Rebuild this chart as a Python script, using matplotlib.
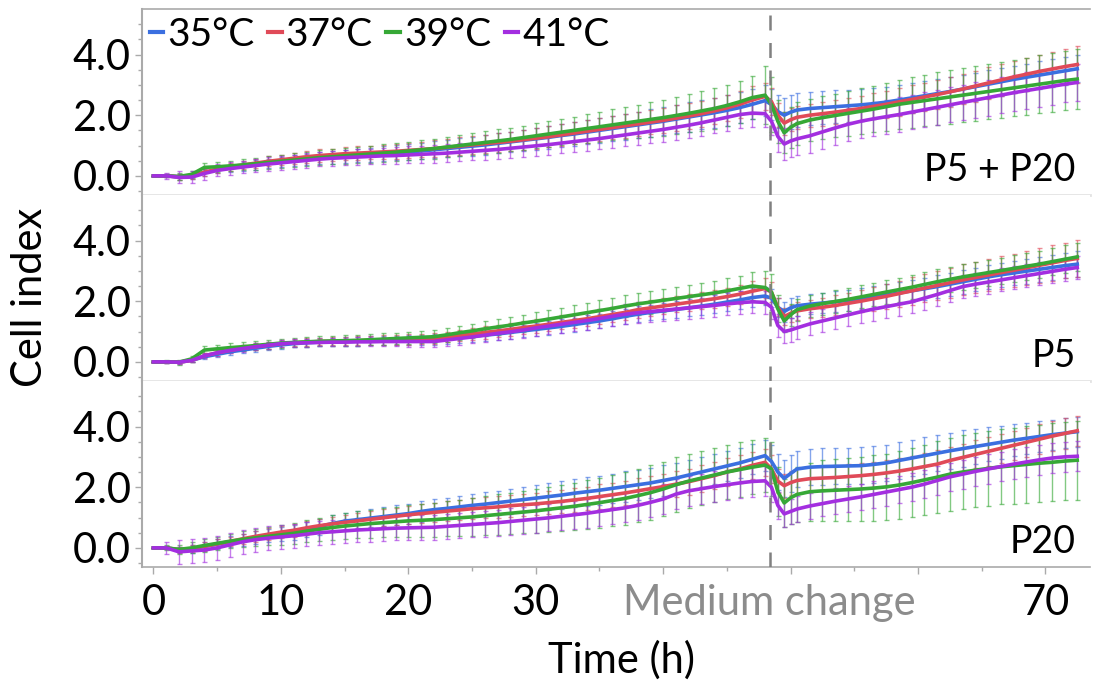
import numpy as np
import matplotlib
matplotlib.use("Agg")
import matplotlib.pyplot as plt
from matplotlib.lines import Line2D
from matplotlib import transforms

plt.rcParams['font.family'] = ['Lato', 'DejaVu Sans']

# Sampling times (h): hourly, half-hourly around the medium change
time_h = np.r_[0:48:1, 48:51:0.5, 51.5:73:1]

temps = ["35°C", "37°C", "39°C", "41°C"]
colors = ["#3b6fe0", "#e04a58", "#36a836", "#a32ee0"]
panel_names = ["P5 + P20", "P5", "P20"]
medium_change_h = 48.35

# ---- P5 + P20 ----
p5p20_35 = [0, 0, -0.03, 0.0, 0.12, 0.2, 0.26, 0.31, 0.36, 0.41, 0.46, 0.5,
            0.54, 0.58, 0.61, 0.64, 0.67, 0.7, 0.73, 0.76, 0.79, 0.82, 0.86, 0.9,
            0.94, 0.98, 1.02, 1.07, 1.12, 1.17, 1.22, 1.27, 1.33, 1.38, 1.44, 1.5,
            1.56, 1.62, 1.68, 1.74, 1.8, 1.87, 1.94, 2.01, 2.08, 2.16, 2.25, 2.36,
            2.48, 2.35, 2.12, 2.0, 2.1, 2.17,
            2.22, 2.25, 2.28, 2.31, 2.34, 2.38, 2.43, 2.5, 2.57, 2.64, 2.71,
            2.78, 2.86, 2.94, 3.02, 3.1, 3.18, 3.25, 3.32, 3.39, 3.46, 3.53]
p5p20_37 = [0, 0, -0.03, 0.0, 0.12, 0.22, 0.3, 0.36, 0.42, 0.48, 0.53, 0.58,
            0.63, 0.67, 0.7, 0.73, 0.75, 0.77, 0.79, 0.81, 0.84, 0.87, 0.9, 0.94,
            0.98, 1.02, 1.06, 1.1, 1.14, 1.19, 1.24, 1.29, 1.35, 1.41, 1.47, 1.53,
            1.59, 1.65, 1.71, 1.77, 1.83, 1.9, 1.97, 2.05, 2.14, 2.24, 2.36, 2.5,
            2.62, 2.45, 2.0, 1.74, 1.85, 1.93,
            2.0, 2.05, 2.1, 2.16, 2.22, 2.29, 2.36, 2.44, 2.52, 2.6, 2.68,
            2.77, 2.86, 2.96, 3.06, 3.16, 3.26, 3.35, 3.44, 3.52, 3.6, 3.67]
p5p20_39 = [0, 0, -0.02, 0.05, 0.28, 0.3, 0.33, 0.36, 0.4, 0.44, 0.48, 0.52,
            0.56, 0.6, 0.63, 0.66, 0.69, 0.72, 0.75, 0.78, 0.82, 0.86, 0.9, 0.95,
            1.0, 1.05, 1.1, 1.15, 1.2, 1.26, 1.32, 1.38, 1.44, 1.5, 1.56, 1.62,
            1.68, 1.74, 1.8, 1.86, 1.92, 1.99, 2.06, 2.14, 2.22, 2.32, 2.44, 2.58,
            2.66, 2.35, 1.8, 1.42, 1.6, 1.72,
            1.84, 1.92, 1.99, 2.06, 2.13, 2.2, 2.28, 2.36, 2.42, 2.48, 2.54,
            2.6, 2.66, 2.72, 2.78, 2.84, 2.9, 2.96, 3.02, 3.08, 3.14, 3.19]
p5p20_41 = [0, 0, -0.05, -0.04, 0.08, 0.18, 0.24, 0.29, 0.34, 0.39, 0.43, 0.47,
            0.51, 0.55, 0.58, 0.6, 0.62, 0.64, 0.66, 0.67, 0.69, 0.71, 0.73, 0.75,
            0.78, 0.81, 0.84, 0.87, 0.91, 0.95, 0.99, 1.03, 1.08, 1.13, 1.18, 1.23,
            1.29, 1.35, 1.41, 1.47, 1.53, 1.6, 1.67, 1.75, 1.84, 1.93, 2.02, 2.07,
            2.05, 1.8, 1.3, 1.05, 1.15, 1.22,
            1.32, 1.45, 1.58, 1.7, 1.8, 1.88, 1.95, 2.02, 2.1, 2.18, 2.26,
            2.34, 2.42, 2.5, 2.58, 2.66, 2.74, 2.81, 2.88, 2.95, 3.02, 3.08]

p5p20_35_sd = [0, 0.05, 0.1, 0.1, 0.12, 0.12, 0.13, 0.14, 0.15, 0.16, 0.17, 0.18,
               0.19, 0.2, 0.21, 0.22, 0.22, 0.23, 0.24, 0.25, 0.26, 0.27, 0.28, 0.29,
               0.3, 0.31, 0.32, 0.33, 0.34, 0.35, 0.36, 0.37, 0.38, 0.39, 0.4, 0.41,
               0.42, 0.43, 0.44, 0.45, 0.46, 0.47, 0.48, 0.48, 0.49, 0.5, 0.5, 0.5,
               0.5, 0.5, 0.55, 0.56, 0.56, 0.56,
               0.55, 0.55, 0.54, 0.53, 0.52, 0.51, 0.5, 0.5, 0.49, 0.48, 0.48,
               0.47, 0.47, 0.46, 0.46, 0.46, 0.45, 0.45, 0.45, 0.45, 0.45, 0.45]
p5p20_37_sd = [0, 0.05, 0.1, 0.1, 0.11, 0.12, 0.13, 0.14, 0.15, 0.16, 0.17, 0.18,
               0.19, 0.2, 0.2, 0.21, 0.22, 0.22, 0.23, 0.24, 0.25, 0.26, 0.27, 0.28,
               0.29, 0.3, 0.3, 0.31, 0.32, 0.33, 0.34, 0.35, 0.35, 0.36, 0.37, 0.38,
               0.38, 0.39, 0.4, 0.4, 0.41, 0.42, 0.42, 0.43, 0.44, 0.44, 0.45, 0.45,
               0.45, 0.45, 0.4, 0.38, 0.38, 0.38,
               0.38, 0.39, 0.4, 0.41, 0.42, 0.43, 0.44, 0.45, 0.46, 0.47, 0.48,
               0.49, 0.5, 0.51, 0.52, 0.53, 0.54, 0.55, 0.56, 0.57, 0.58, 0.6]
p5p20_39_sd = [0, 0.05, 0.1, 0.12, 0.15, 0.16, 0.17, 0.18, 0.19, 0.2, 0.21, 0.22,
               0.23, 0.24, 0.25, 0.26, 0.27, 0.28, 0.29, 0.3, 0.31, 0.32, 0.33, 0.34,
               0.35, 0.36, 0.37, 0.38, 0.39, 0.4, 0.41, 0.42, 0.43, 0.45, 0.47, 0.49,
               0.51, 0.53, 0.55, 0.57, 0.59, 0.61, 0.63, 0.65, 0.67, 0.69, 0.7, 0.72,
               0.95, 0.9, 0.7, 0.68, 0.68, 0.7,
               0.7, 0.71, 0.72, 0.73, 0.75, 0.77, 0.79, 0.81, 0.83, 0.85, 0.87,
               0.88, 0.89, 0.9, 0.91, 0.92, 0.93, 0.94, 0.95, 0.96, 0.98, 1.0]
p5p20_41_sd = [0, 0.1, 0.2, 0.2, 0.2, 0.2, 0.21, 0.21, 0.22, 0.22, 0.23, 0.23,
               0.24, 0.24, 0.25, 0.25, 0.26, 0.26, 0.27, 0.27, 0.28, 0.28, 0.29, 0.29,
               0.3, 0.3, 0.31, 0.31, 0.32, 0.32, 0.33, 0.33, 0.34, 0.34, 0.35, 0.35,
               0.36, 0.37, 0.38, 0.39, 0.4, 0.41, 0.42, 0.43, 0.44, 0.45, 0.45, 0.45,
               0.45, 0.45, 0.5, 0.52, 0.53, 0.54,
               0.55, 0.55, 0.55, 0.55, 0.56, 0.56, 0.56, 0.57, 0.57, 0.57, 0.58,
               0.58, 0.58, 0.59, 0.59, 0.59, 0.6, 0.6, 0.6, 0.6, 0.6, 0.6]

# ---- P5 ----
p5_35 = [0, 0, -0.01, 0.05, 0.17, 0.25, 0.33, 0.39, 0.45, 0.51, 0.56, 0.6,
         0.63, 0.65, 0.66, 0.67, 0.68, 0.69, 0.7, 0.7, 0.71, 0.72, 0.73, 0.76,
         0.8, 0.84, 0.88, 0.92, 0.97, 1.02, 1.07, 1.12, 1.17, 1.23, 1.29, 1.35,
         1.42, 1.5, 1.57, 1.63, 1.68, 1.73, 1.78, 1.84, 1.9, 1.97, 2.04, 2.12,
         2.17, 2.1, 1.8, 1.66, 1.78, 1.85,
         1.9, 1.94, 1.98, 2.03, 2.08, 2.14, 2.2, 2.27, 2.34, 2.41, 2.48,
         2.56, 2.64, 2.72, 2.8, 2.87, 2.93, 2.99, 3.05, 3.11, 3.17, 3.22]
p5_37 = [0, 0, -0.01, 0.05, 0.2, 0.3, 0.38, 0.45, 0.5, 0.55, 0.6, 0.63,
         0.65, 0.67, 0.68, 0.69, 0.7, 0.71, 0.72, 0.73, 0.74, 0.76, 0.78, 0.82,
         0.87, 0.92, 0.97, 1.02, 1.07, 1.13, 1.18, 1.24, 1.3, 1.36, 1.42, 1.49,
         1.56, 1.63, 1.72, 1.78, 1.84, 1.9, 1.96, 2.02, 2.08, 2.15, 2.23, 2.33,
         2.42, 2.3, 1.8, 1.49, 1.6, 1.68,
         1.75, 1.8, 1.86, 1.93, 2.0, 2.08, 2.16, 2.25, 2.34, 2.43, 2.52,
         2.61, 2.7, 2.78, 2.86, 2.94, 3.02, 3.1, 3.18, 3.26, 3.34, 3.41]
p5_39 = [0, 0, -0.01, 0.1, 0.39, 0.43, 0.47, 0.5, 0.54, 0.58, 0.62, 0.64,
         0.66, 0.68, 0.69, 0.7, 0.71, 0.73, 0.75, 0.77, 0.79, 0.81, 0.83, 0.89,
         0.96, 1.02, 1.09, 1.15, 1.21, 1.28, 1.34, 1.41, 1.48, 1.55, 1.62, 1.69,
         1.76, 1.84, 1.91, 1.97, 2.03, 2.09, 2.15, 2.21, 2.27, 2.34, 2.42, 2.5,
         2.45, 2.3, 1.75, 1.35, 1.55, 1.72,
         1.84, 1.92, 1.99, 2.06, 2.14, 2.22, 2.3, 2.38, 2.46, 2.55, 2.64,
         2.72, 2.8, 2.87, 2.94, 3.01, 3.08, 3.15, 3.22, 3.3, 3.38, 3.46]
p5_41 = [0, 0, -0.01, 0.05, 0.2, 0.3, 0.38, 0.44, 0.5, 0.55, 0.6, 0.62,
         0.63, 0.64, 0.65, 0.65, 0.66, 0.66, 0.67, 0.67, 0.67, 0.67, 0.67, 0.72,
         0.77, 0.82, 0.88, 0.94, 0.99, 1.05, 1.12, 1.18, 1.24, 1.3, 1.36, 1.43,
         1.5, 1.57, 1.62, 1.66, 1.7, 1.74, 1.78, 1.82, 1.86, 1.91, 1.95, 1.98,
         1.96, 1.8, 1.2, 1.0, 1.05, 1.12,
         1.25, 1.35, 1.45, 1.55, 1.65, 1.74, 1.82, 1.9, 1.98, 2.1, 2.22,
         2.35, 2.48, 2.56, 2.63, 2.7, 2.77, 2.84, 2.91, 2.98, 3.05, 3.11]

p5_35_sd = [0, 0.03, 0.05, 0.06, 0.08, 0.09, 0.1, 0.1, 0.11, 0.11, 0.12, 0.12,
            0.13, 0.13, 0.14, 0.14, 0.15, 0.15, 0.16, 0.16, 0.17, 0.17, 0.18, 0.18,
            0.19, 0.19, 0.2, 0.2, 0.21, 0.21, 0.22, 0.22, 0.23, 0.23, 0.24, 0.24,
            0.25, 0.25, 0.26, 0.26, 0.27, 0.27, 0.28, 0.28, 0.29, 0.29, 0.3, 0.3,
            0.3, 0.3, 0.32, 0.33, 0.33, 0.33,
            0.33, 0.33, 0.34, 0.34, 0.35, 0.35, 0.36, 0.36, 0.37, 0.37, 0.38,
            0.38, 0.39, 0.39, 0.4, 0.4, 0.4, 0.41, 0.41, 0.42, 0.42, 0.42]
p5_37_sd = [0, 0.03, 0.05, 0.06, 0.08, 0.09, 0.1, 0.1, 0.11, 0.11, 0.12, 0.12,
            0.13, 0.13, 0.14, 0.14, 0.15, 0.15, 0.16, 0.16, 0.17, 0.17, 0.18, 0.18,
            0.19, 0.19, 0.2, 0.2, 0.21, 0.21, 0.22, 0.22, 0.23, 0.23, 0.24, 0.24,
            0.25, 0.25, 0.26, 0.26, 0.27, 0.27, 0.28, 0.28, 0.29, 0.3, 0.31, 0.32,
            0.33, 0.33, 0.3, 0.28, 0.28, 0.29,
            0.3, 0.31, 0.33, 0.35, 0.37, 0.39, 0.41, 0.43, 0.45, 0.47, 0.49,
            0.5, 0.51, 0.52, 0.53, 0.54, 0.55, 0.56, 0.57, 0.58, 0.59, 0.6]
p5_39_sd = [0, 0.05, 0.08, 0.1, 0.14, 0.14, 0.14, 0.14, 0.15, 0.15, 0.15, 0.15,
            0.16, 0.16, 0.17, 0.17, 0.18, 0.18, 0.19, 0.19, 0.2, 0.2, 0.21, 0.22,
            0.23, 0.24, 0.25, 0.26, 0.27, 0.28, 0.29, 0.3, 0.31, 0.32, 0.33, 0.34,
            0.35, 0.36, 0.37, 0.38, 0.38, 0.39, 0.39, 0.4, 0.4, 0.41, 0.42, 0.45,
            0.55, 0.6, 0.45, 0.38, 0.36, 0.36,
            0.36, 0.36, 0.37, 0.37, 0.38, 0.38, 0.39, 0.39, 0.4, 0.4, 0.41,
            0.41, 0.42, 0.42, 0.43, 0.43, 0.44, 0.44, 0.45, 0.45, 0.46, 0.46]
p5_41_sd = [0, 0.03, 0.05, 0.06, 0.08, 0.09, 0.1, 0.1, 0.11, 0.11, 0.12, 0.12,
            0.13, 0.13, 0.14, 0.14, 0.15, 0.15, 0.16, 0.16, 0.17, 0.17, 0.18, 0.19,
            0.2, 0.21, 0.22, 0.23, 0.24, 0.25, 0.26, 0.27, 0.28, 0.29, 0.3, 0.31,
            0.32, 0.33, 0.34, 0.35, 0.35, 0.36, 0.36, 0.37, 0.37, 0.38, 0.38, 0.38,
            0.38, 0.38, 0.38, 0.38, 0.38, 0.38,
            0.38, 0.38, 0.38, 0.38, 0.38, 0.38, 0.38, 0.38, 0.38, 0.38, 0.38,
            0.38, 0.38, 0.38, 0.38, 0.38, 0.38, 0.38, 0.38, 0.38, 0.38, 0.38]

# ---- P20 ----
p20_35 = [0, 0, -0.06, -0.04, 0.05, 0.12, 0.2, 0.27, 0.33, 0.4, 0.46, 0.5,
          0.6, 0.7, 0.8, 0.88, 0.93, 0.98, 1.03, 1.08, 1.13, 1.2, 1.26, 1.3,
          1.35, 1.4, 1.44, 1.49, 1.54, 1.59, 1.64, 1.69, 1.74, 1.8, 1.85, 1.9,
          1.96, 2.02, 2.08, 2.14, 2.22, 2.3, 2.4, 2.5, 2.6, 2.7, 2.8, 2.92,
          3.04, 2.85, 2.5, 2.29, 2.45, 2.6,
          2.66, 2.68, 2.69, 2.7, 2.71, 2.75, 2.8, 2.88, 2.96, 3.04, 3.12,
          3.2, 3.27, 3.34, 3.41, 3.48, 3.55, 3.61, 3.67, 3.73, 3.78, 3.83]
p20_37 = [0, 0, -0.06, -0.03, 0.05, 0.13, 0.21, 0.3, 0.38, 0.45, 0.52, 0.58,
          0.66, 0.73, 0.79, 0.84, 0.89, 0.94, 0.99, 1.04, 1.09, 1.13, 1.17, 1.21,
          1.25, 1.29, 1.32, 1.35, 1.39, 1.42, 1.45, 1.49, 1.53, 1.58, 1.63, 1.69,
          1.75, 1.81, 1.88, 1.95, 2.02, 2.1, 2.18, 2.28, 2.38, 2.5, 2.6, 2.72,
          2.82, 2.6, 2.2, 2.05, 2.15, 2.22,
          2.28, 2.3, 2.32, 2.35, 2.38, 2.42, 2.47, 2.53, 2.6, 2.68, 2.76,
          2.88, 2.98, 3.08, 3.18, 3.28, 3.38, 3.48, 3.58, 3.68, 3.77, 3.86]
p20_39 = [0, 0, -0.05, 0.0, 0.08, 0.15, 0.22, 0.28, 0.33, 0.38, 0.43, 0.48,
          0.55, 0.61, 0.67, 0.72, 0.76, 0.8, 0.83, 0.86, 0.89, 0.91, 0.93, 0.96,
          0.99, 1.02, 1.06, 1.1, 1.14, 1.18, 1.22, 1.27, 1.32, 1.37, 1.43, 1.49,
          1.56, 1.63, 1.72, 1.82, 1.94, 2.08, 2.2, 2.3, 2.4, 2.5, 2.58, 2.66,
          2.73, 2.6, 1.85, 1.48, 1.65, 1.76,
          1.85, 1.88, 1.9, 1.92, 1.94, 1.97, 2.01, 2.07, 2.15, 2.24, 2.33,
          2.43, 2.5, 2.56, 2.62, 2.67, 2.71, 2.75, 2.79, 2.82, 2.86, 2.89]
p20_41 = [0, 0, -0.13, -0.1, -0.07, 0.0, 0.1, 0.2, 0.27, 0.32, 0.36, 0.4,
          0.45, 0.5, 0.53, 0.56, 0.59, 0.61, 0.63, 0.65, 0.66, 0.67, 0.68, 0.71,
          0.74, 0.77, 0.8, 0.83, 0.87, 0.91, 0.95, 0.99, 1.04, 1.09, 1.14, 1.2,
          1.26, 1.32, 1.4, 1.5, 1.61, 1.77, 1.88, 1.95, 2.02, 2.08, 2.14, 2.19,
          2.21, 2.0, 1.4, 1.12, 1.2, 1.28,
          1.38, 1.46, 1.54, 1.61, 1.68, 1.76, 1.84, 1.92, 2.0, 2.1, 2.22,
          2.34, 2.43, 2.52, 2.6, 2.68, 2.76, 2.83, 2.9, 2.96, 3.0, 3.02]

p20_35_sd = [0, 0.05, 0.1, 0.12, 0.14, 0.16, 0.18, 0.2, 0.21, 0.22, 0.23, 0.24,
             0.25, 0.26, 0.27, 0.28, 0.29, 0.3, 0.31, 0.32, 0.33, 0.34, 0.35, 0.36,
             0.37, 0.38, 0.39, 0.4, 0.41, 0.42, 0.43, 0.44, 0.45, 0.46, 0.47, 0.48,
             0.49, 0.5, 0.5, 0.5, 0.5, 0.5, 0.5, 0.5, 0.5, 0.5, 0.5, 0.5,
             0.5, 0.55, 0.6, 0.6, 0.6, 0.6,
             0.6, 0.6, 0.6, 0.6, 0.6, 0.6, 0.6, 0.6, 0.6, 0.6, 0.6,
             0.6, 0.6, 0.58, 0.56, 0.54, 0.52, 0.5, 0.5, 0.5, 0.5, 0.5]
p20_37_sd = [0, 0.05, 0.1, 0.12, 0.14, 0.15, 0.16, 0.17, 0.18, 0.19, 0.2, 0.21,
             0.22, 0.23, 0.24, 0.25, 0.26, 0.27, 0.28, 0.29, 0.3, 0.31, 0.32, 0.33,
             0.34, 0.35, 0.35, 0.36, 0.36, 0.37, 0.37, 0.38, 0.38, 0.39, 0.39, 0.4,
             0.4, 0.41, 0.41, 0.42, 0.42, 0.43, 0.43, 0.44, 0.44, 0.45, 0.45, 0.45,
             0.45, 0.45, 0.4, 0.4, 0.4, 0.4,
             0.4, 0.4, 0.41, 0.41, 0.42, 0.42, 0.43, 0.43, 0.44, 0.44, 0.45,
             0.45, 0.46, 0.46, 0.47, 0.47, 0.48, 0.48, 0.49, 0.49, 0.5, 0.5]
p20_39_sd = [0, 0.08, 0.15, 0.18, 0.2, 0.22, 0.24, 0.26, 0.28, 0.3, 0.32, 0.34,
             0.36, 0.38, 0.4, 0.42, 0.44, 0.46, 0.48, 0.5, 0.52, 0.54, 0.56, 0.58,
             0.6, 0.62, 0.64, 0.66, 0.68, 0.7, 0.72, 0.74, 0.76, 0.78, 0.8, 0.82,
             0.84, 0.86, 0.88, 0.9, 0.9, 0.9, 0.9, 0.9, 0.9, 0.9, 0.9, 0.9,
             0.9, 0.9, 0.8, 0.8, 0.85, 0.9,
             0.95, 1.0, 1.02, 1.04, 1.06, 1.08, 1.1, 1.12, 1.14, 1.16, 1.18,
             1.2, 1.21, 1.22, 1.23, 1.24, 1.25, 1.26, 1.27, 1.28, 1.29, 1.3]
p20_41_sd = [0, 0.2, 0.4, 0.4, 0.4, 0.4, 0.4, 0.4, 0.4, 0.4, 0.4, 0.4,
             0.4, 0.4, 0.4, 0.4, 0.4, 0.4, 0.4, 0.4, 0.4, 0.4, 0.41, 0.41,
             0.42, 0.42, 0.43, 0.43, 0.44, 0.44, 0.45, 0.45, 0.46, 0.46, 0.47, 0.47,
             0.48, 0.48, 0.49, 0.49, 0.5, 0.5, 0.5, 0.5, 0.5, 0.5, 0.5, 0.5,
             0.5, 0.5, 0.45, 0.42, 0.42, 0.42,
             0.42, 0.42, 0.43, 0.43, 0.44, 0.44, 0.45, 0.45, 0.46, 0.46, 0.47,
             0.47, 0.48, 0.48, 0.49, 0.49, 0.5, 0.5, 0.5, 0.5, 0.5, 0.5]

panels = [
    ([p5p20_35, p5p20_37, p5p20_39, p5p20_41],
     [p5p20_35_sd, p5p20_37_sd, p5p20_39_sd, p5p20_41_sd]),
    ([p5_35, p5_37, p5_39, p5_41],
     [p5_35_sd, p5_37_sd, p5_39_sd, p5_41_sd]),
    ([p20_35, p20_37, p20_39, p20_41],
     [p20_35_sd, p20_37_sd, p20_39_sd, p20_41_sd]),
]

W, H = 1105, 685
fig = plt.figure(figsize=(W / 100, H / 100), dpi=100)

left, right = 142 / W, 1090 / W
top_px, panel_px = 9, 186
axes = []
for i in range(3):
    y0 = 1 - (top_px + (i + 1) * panel_px) / H
    ax = fig.add_axes([left, y0, right - left, panel_px / H])
    axes.append(ax)

spine_grey = "#aaaaaa"
sep_grey = "#e3e3e3"

for i, (ax, (means, sds)) in enumerate(zip(axes, panels)):
    for m, s, c in zip(means, sds, colors):
        ax.errorbar(time_h, m, yerr=s, fmt="none", ecolor=c, elinewidth=1.0,
                    capsize=1.8, capthick=1.0, alpha=0.62, zorder=2)
    for m, c in zip(means, colors):
        ax.plot(time_h, m, color=c, lw=2.6, zorder=3, solid_joinstyle="round")

    ax.axvline(medium_change_h, color="#808080", lw=1.8,
               linestyle=(0, (6, 5)), zorder=4)

    ax.set_xlim(-0.9, 73.5)
    ax.set_ylim(-0.63, 5.5)
    ax.set_yticks([0, 2, 4])
    ax.set_yticklabels(["0.0", "2.0", "4.0"])
    ax.set_yticks(np.arange(-0.5, 5.5, 0.5), minor=True)
    ax.tick_params(axis="y", which="major", direction="out", length=5,
                   width=1, color=spine_grey, labelsize=30, pad=3)
    ax.tick_params(axis="y", which="minor", direction="out", length=3,
                   width=1, color=spine_grey)

    ax.spines["right"].set_visible(False)
    ax.spines["left"].set_color(spine_grey)
    ax.spines["left"].set_linewidth(1.5)
    if i == 0:
        ax.spines["top"].set_color(spine_grey)
        ax.spines["top"].set_linewidth(1.2)
    else:
        ax.spines["top"].set_visible(False)
    if i < 2:
        ax.spines["bottom"].set_color(sep_grey)
        ax.spines["bottom"].set_linewidth(2)
        ax.tick_params(axis="x", which="both", bottom=False, labelbottom=False)
    else:
        ax.spines["bottom"].set_color(spine_grey)
        ax.spines["bottom"].set_linewidth(1.2)

    ax.text(0.985, 0.04, panel_names[i], transform=ax.transAxes,
            ha="right", va="bottom", fontsize=27, color="black")

# Bottom axis: time ticks, with the medium-change label in place of 40-60
axb = axes[2]
axb.set_xticks(np.arange(0, 71, 10))
axb.set_xticklabels(["0", "10", "20", "30", "", "", "", "70"])
axb.set_xticks(np.arange(0, 75, 5), minor=True)
axb.tick_params(axis="x", which="major", direction="out", length=5, width=1,
                color=spine_grey, labelsize=30, pad=7)
axb.tick_params(axis="x", which="minor", direction="out", length=3, width=1,
                color=spine_grey)
offset = transforms.offset_copy(axb.get_xaxis_transform(), fig=fig,
                                x=0, y=-(5 + 7), units="points")
axb.text(48.3, 0, "Medium change", transform=offset, ha="center", va="top",
         fontsize=30, color="#8c8c8c")

handles = [Line2D([], [], color=c, lw=3) for c in colors]
axes[0].legend(handles, temps, loc="upper left", ncol=4, fontsize=28,
               frameon=False, handlelength=0.35, handletextpad=0.1,
               columnspacing=0.35, borderaxespad=0.1, borderpad=0.1)

fig.text(30 / W, 1 - 297 / H, "Cell index", rotation=90, ha="center",
         va="center", fontsize=30)
fig.text(622 / W, 1 - 660 / H, "Time (h)", ha="center", va="center",
         fontsize=30)

fig.savefig("out.png", dpi=100)
